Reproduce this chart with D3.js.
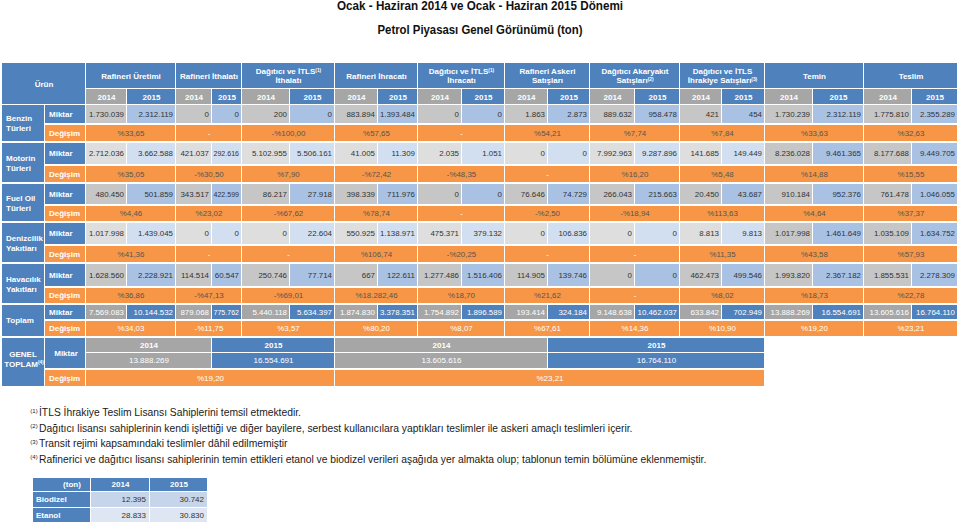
<!DOCTYPE html>
<html><head><meta charset="utf-8">
<script src="https://cdn.jsdelivr.net/npm/d3@7"></script>
<style>body{margin:0;background:#fff}svg{display:block;font-family:"Liberation Sans",Arial,Helvetica,sans-serif}</style>
</head><body><svg id="c" width="960" height="522"></svg>
<script>
// ---------- DATA ----------
const title = "Ocak - Haziran 2014 ve Ocak - Haziran 2015 Dönemi";
const subtitle = "Petrol Piyasası Genel Görünümü (ton)";
const groupLabels = [
  [["Rafineri Üretimi",""]],
  [["Rafineri İthalatı",""]],
  [["Dağıtıcı ve İTLS","(1)"],["İthalatı",""]],
  [["Rafineri İhracatı",""]],
  [["Dağıtıcı ve İTLS","(1)"],["İhracatı",""]],
  [["Rafineri Askeri",""],["Satışları",""]],
  [["Dağıtıcı Akaryakıt",""],["Satışları","(2)"]],
  [["Dağıtıcı ve İTLS",""],["İhrakiye Satışları","(3)"]],
  [["Temin",""]],
  [["Teslim",""]]
];
const years = ["2014","2015"];
const products = [["Benzin","Türleri"],["Motorin","Türleri"],["Fuel Oil","Türleri"],["Denizcilik","Yakıtları"],["Havacılık","Yakıtları"],["Toplam"]];
const rowLabels = ["Miktar","Değişim"];

const benzin    = [1730039,2312119,0,0,200,0,883894,1393484,0,0,1863,2873,889632,958478,421,454,1730239,2312119,1775810,2355289];
const motorin   = [2712036,3662588,421037,292616,5102955,5506161,41005,11309,2035,1051,0,0,7992963,9287896,141685,149449,8236028,9461365,8177688,9449705];
const fuelOil   = [480450,501859,343517,422599,86217,27918,398339,711976,0,0,76646,74729,266043,215663,20450,43687,910184,952376,761478,1046055];
const denizcilik= [1017998,1439045,0,0,0,22604,550925,1138971,475371,379132,0,106836,0,0,8813,9813,1017998,1461649,1035109,1634752];
const havacilik = [1628560,2228921,114514,60547,250746,77714,667,122611,1277486,1516406,114905,139746,0,0,462473,499546,1993820,2367182,1855531,2278309];
const toplam    = [7569083,10144532,879068,775762,5440118,5634397,1874830,3378351,1754892,1896589,193414,324184,9148638,10462037,633842,702949,13888269,16554691,13605616,16764110];

const benzinChg    = [33.65,null,-100.00,57.65,null,54.21,7.74,7.84,33.63,32.63];
const motorinChg   = [35.05,-30.50,7.90,-72.42,-48.35,null,16.20,5.48,14.88,15.55];
const fuelOilChg   = [4.46,23.02,-67.62,78.74,null,-2.50,-18.94,113.63,4.64,37.37];
const denizcilikChg= [41.36,null,null,106.74,-20.25,null,null,11.35,43.58,57.93];
const havacilikChg = [36.86,-47.13,-69.01,18282.46,18.70,21.62,null,8.02,18.73,22.78];
const toplamChg    = [34.03,-11.75,3.57,80.20,8.07,67.61,14.36,10.90,19.20,23.21];

const genelLabel = ["GENEL","TOPLAM"];
const genelYears = ["2014","2015","2014","2015"];
const genelValues = [13888269,16554691,13605616,16764110];
const genelChg = [19.20,23.21];

const footSups = ["(1)","(2)","(3)","(4)"];
const footTexts = [
  "İTLS İhrakiye Teslim Lisansı Sahiplerini temsil etmektedir.",
  "Dağıtıcı lisansı sahiplerinin kendi işlettiği ve diğer bayilere, serbest kullanıcılara yaptıkları teslimler ile askeri amaçlı teslimleri içerir.",
  "Transit rejimi kapsamındaki teslimler dâhil edilmemiştir",
  "Rafinerici ve dağıtıcı lisansı sahiplerinin temin ettikleri etanol ve biodizel verileri aşağıda yer almakta olup; tablonun temin bölümüne eklenmemiştir."
];
const bioHeader = ["(ton)","2014","2015"];
const bioCats = ["Biodizel","Etanol"];
const bio2014 = [12395,28833];
const bio2015 = [30742,30830];

// ---------- LAYOUT ----------
const miktarRows = [benzin,motorin,fuelOil,denizcilik,havacilik,toplam];
const chgRows = [benzinChg,motorinChg,fuelOilChg,denizcilikChg,havacilikChg,toplamChg];
const colEdges = [86,127,176,212,242,290,335,378,418,462,505,548,590,635,680,722,765,813,864,912,958];
const x = d3.scaleOrdinal(d3.range(colEdges.length), colEdges);
const groupY = [[105,124,141],[143,165,182],[184,205,221],[223,245,262],[264,287,303],[305,320,336]];
const genelY = [338,353,369,386];

const BLUE="#4f81bd", GRAY="#a6a6a6", ORANGE="#f79646";
const DG="#c6c6c6", DB="#a9c2e4", LG="#dedede", LB="#d2dff0";

const loc = d3.formatLocale({decimal:",",thousands:".",grouping:[3],currency:["",""]});
const fmtN = loc.format(",d");
const fmtP = v => v==null ? "-" : (v<0?"-":"")+"%"+loc.format(",.2f")(Math.abs(v));

const svg = d3.select("#c");
const gCells = svg.append("g"), gText = svg.append("g");

function cell(x0,x1,y0,y1,fill){
  gCells.append("rect").attr("x",x0).attr("y",y0).attr("width",x1-x0-1).attr("height",y1-y0-1).attr("fill",fill);
}
function txt(s,xp,yp,o={}){
  const t = gText.append("text").attr("x",xp).attr("y",yp).attr("dy","0.35em")
    .attr("text-anchor",o.anchor||"middle").attr("font-size",o.size||8)
    .attr("font-weight",o.bold?"bold":"normal").attr("fill",o.fill||"#333").text(s);
  if(o.max){ const w=t.node().getComputedTextLength(); if(w>o.max) t.attr("textLength",o.max).attr("lengthAdjust","spacingAndGlyphs"); }
  return t;
}
function supTxt(parts,xp,yp,o){
  const t = gText.append("text").attr("x",xp).attr("y",yp).attr("dy","0.35em")
    .attr("text-anchor",o.anchor||"middle").attr("font-size",o.size||8)
    .attr("font-weight",o.bold?"bold":"normal").attr("fill",o.fill||"#fff");
  t.append("tspan").text(parts[0]);
  if(parts[1]) t.append("tspan").attr("font-size",(o.size||8)*0.6).attr("dy","-0.5em").text(parts[1]);
  return t;
}

// Titles
svg.append("text").attr("x",480).attr("y",10).attr("text-anchor","middle").attr("font-size",12.5)
  .attr("font-weight","bold").attr("fill","#111").attr("textLength",286).attr("lengthAdjust","spacingAndGlyphs").text(title);
svg.append("text").attr("x",480).attr("y",34).attr("text-anchor","middle").attr("font-size",12)
  .attr("font-weight","bold").attr("fill","#111").attr("textLength",205).attr("lengthAdjust","spacingAndGlyphs").text(subtitle);

// Header
cell(2,86,63,105,BLUE);
txt("Ürün",44,84,{bold:true,fill:"#fff"});
groupLabels.forEach((lines,g)=>{
  const x0=x(2*g), x1=x(2*g+2);
  cell(x0,x1,63,89,BLUE);
  const cx=(x0+x1)/2;
  if(lines.length===1) supTxt(lines[0],cx,76,{bold:true});
  else { supTxt(lines[0],cx,71.5,{bold:true}); supTxt(lines[1],cx,80.5,{bold:true}); }
  years.forEach((yr,k)=>{
    const c=2*g+k;
    cell(x(c),x(c+1),89,105,k===0?GRAY:BLUE);
    txt(yr,(x(c)+x(c+1))/2,97,{bold:true,fill:"#fff"});
  });
});

// Body
products.forEach((nm,p)=>{
  const [y0,ym,y1]=groupY[p];
  cell(2,45,y0,y1+1,BLUE);
  if(nm.length===2){ txt(nm[0],6,(y0+y1)/2-4.5,{anchor:"start",bold:true,fill:"#fff"}); txt(nm[1],6,(y0+y1)/2+5.5,{anchor:"start",bold:true,fill:"#fff"}); }
  else txt(nm[0],6,(y0+y1)/2,{anchor:"start",bold:true,fill:"#fff"});
  cell(45,86,y0,ym,BLUE);
  txt(rowLabels[0],49,(y0+ym)/2-0.5,{anchor:"start",bold:true,fill:"#fff"});
  cell(45,86,ym+1,y1+1,ORANGE);
  txt(rowLabels[1],49,(ym+y1)/2+0.5,{anchor:"start",bold:true,fill:"#fff"});
  miktarRows[p].forEach((v,c)=>{
    let fill;
    if(p===5) fill = c%2===0?GRAY:BLUE;
    else { const dark = p%2===0 || c>=16; fill = c%2===0 ? (dark?DG:LG) : (dark?DB:LB); }
    cell(x(c),x(c+1),y0,ym,fill);
    txt(fmtN(v),x(c+1)-3,(y0+ym)/2-0.5,{anchor:"end",fill:p===5?"#fff":"#333",size:7.9,max:x(c+1)-x(c)-4.5});
  });
  chgRows[p].forEach((v,g)=>{
    cell(x(2*g),x(2*g+2),ym+1,y1+1,ORANGE);
    txt(fmtP(v),(x(2*g)+x(2*g+2))/2,(ym+y1)/2+0.5,{fill:p===5||v==null?"#fff":"#555",size:7.9});
  });
});

// GENEL TOPLAM
cell(2,45,genelY[0],genelY[3]+1,BLUE);
txt(genelLabel[0],23,genelY[1]+1,{bold:true,fill:"#fff"});
supTxt([genelLabel[1],"(4)"],24,genelY[1]+11,{bold:true});
cell(45,86,genelY[0],genelY[2],BLUE);
txt(rowLabels[0],66,(genelY[0]+genelY[2])/2,{bold:true,fill:"#fff"});
cell(45,86,genelY[2]+1,genelY[3]+1,ORANGE);
txt(rowLabels[1],49,(genelY[2]+genelY[3])/2+0.5,{anchor:"start",bold:true,fill:"#fff"});
const genelSpans=[[0,3],[3,6],[6,11],[11,16]];
genelSpans.forEach(([a,b],i)=>{
  const f=i%2===0?GRAY:BLUE;
  cell(x(a),x(b),genelY[0],genelY[1],f);
  txt(genelYears[i],(x(a)+x(b))/2,(genelY[0]+genelY[1])/2-0.5,{bold:true,fill:"#fff"});
  cell(x(a),x(b),genelY[1],genelY[2],f);
  txt(fmtN(genelValues[i]),(x(a)+x(b))/2,(genelY[1]+genelY[2])/2-0.5,{fill:"#fff"});
});
[[0,6],[6,16]].forEach(([a,b],i)=>{
  cell(x(a),x(b),genelY[2]+1,genelY[3]+1,ORANGE);
  txt(fmtP(genelChg[i]),(x(a)+x(b))/2,(genelY[2]+genelY[3])/2+0.5,{fill:"#fff"});
});

// Footnotes
footTexts.forEach((s,i)=>{
  const yb=416+i*15.6;
  svg.append("text").attr("x",34).attr("y",yb-3.5).attr("text-anchor","middle").attr("font-size",6).attr("fill","#222").text(footSups[i]);
  svg.append("text").attr("x",39).attr("y",yb).attr("font-size",10.3).attr("fill","#1a1a1a").text(s);
});

// Small table
const bx=[33,91,150,208], by=[478,492,508,524];
bioHeader.forEach((h,i)=>{
  cell(bx[i],bx[i+1],by[0],by[1],BLUE);
  txt(h,i===0?72:(bx[i]+bx[i+1])/2,(by[0]+by[1])/2-0.5,{bold:true,fill:"#fff"});
});
bioCats.forEach((c,r)=>{
  cell(bx[0],bx[1],by[r+1],by[r+2],BLUE);
  txt(c,36,(by[r+1]+by[r+2])/2-0.5,{anchor:"start",bold:true,fill:"#fff"});
  const f = r===0?"#c6d5ea":"#dde6f2";
  [bio2014[r],bio2015[r]].forEach((v,k)=>{
    cell(bx[k+1],bx[k+2],by[r+1],by[r+2],f);
    txt(fmtN(v),bx[k+2]-4,(by[r+1]+by[r+2])/2-0.5,{anchor:"end",fill:"#333"});
  });
});
</script></body></html>
